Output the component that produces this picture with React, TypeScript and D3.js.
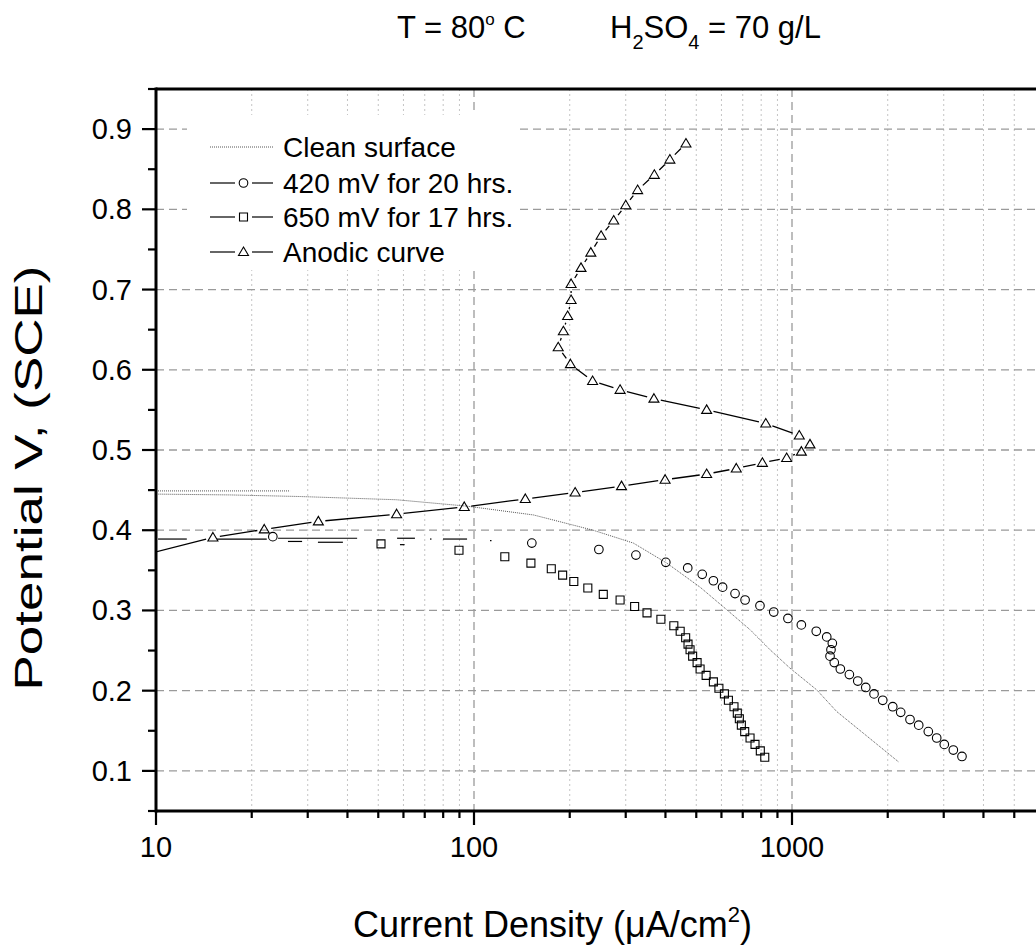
import React from "react";
import * as d3 from "d3";

// ---------- data ----------
const cleanCurrent = [2159, 1676, 1382, 1196, 986, 853, 738, 623, 514, 404, 317, 237, 154, 95, 57, 28.4, 17.1, 10.15];
const cleanPotential = [0.1115, 0.147, 0.174, 0.201, 0.228, 0.251, 0.276, 0.301, 0.329, 0.359, 0.384, 0.4, 0.419, 0.43, 0.438, 0.442, 0.444, 0.445];
const cleanUpperCurrent = [10, 26.4];
const cleanUpperPotential = [0.449, 0.449];

const c420Current = [23.3, 152, 247, 323, 401, 470, 522, 566, 605, 662, 712, 793, 876, 971, 1070, 1192, 1286, 1339, 1326, 1317, 1358, 1419, 1515, 1610, 1706, 1811, 1929, 2074, 2197, 2350, 2503, 2683, 2851, 3012, 3216, 3424];
const c420Potential = [0.392, 0.384, 0.376, 0.369, 0.36, 0.353, 0.345, 0.337, 0.329, 0.321, 0.313, 0.306, 0.298, 0.29, 0.282, 0.274, 0.267, 0.259, 0.251, 0.243, 0.235, 0.227, 0.22, 0.212, 0.204, 0.196, 0.188, 0.18, 0.173, 0.164, 0.157, 0.149, 0.141, 0.133, 0.126, 0.118];

const s650Current = [51, 89.7, 125, 151, 175, 190, 206, 228, 255, 288, 320, 350, 387, 425, 445, 463, 471, 478, 487, 503, 514, 537, 566, 589, 613, 631, 657, 673, 683, 693, 710, 738, 765, 795, 821];
const s650Potential = [0.383, 0.375, 0.367, 0.359, 0.352, 0.344, 0.336, 0.328, 0.32, 0.313, 0.305, 0.297, 0.289, 0.281, 0.274, 0.266, 0.258, 0.251, 0.243, 0.235, 0.227, 0.219, 0.211, 0.203, 0.196, 0.188, 0.18, 0.172, 0.165, 0.157, 0.149, 0.141, 0.133, 0.125, 0.117];

const anodicCurrent = [8.9, 15.1, 21.9, 32.4, 57.1, 93.2, 145, 208, 291, 399, 539, 668, 807, 962, 1070, 1139, 1054, 827, 539, 368, 288, 236, 201, 184, 191, 197, 202, 202, 217, 233, 251, 275, 300, 327, 369, 413, 464];
const anodicPotential = [0.368, 0.391, 0.401, 0.411, 0.42, 0.429, 0.439, 0.447, 0.455, 0.463, 0.47, 0.477, 0.484, 0.49, 0.498, 0.507, 0.518, 0.533, 0.55, 0.564, 0.575, 0.586, 0.607, 0.628, 0.648, 0.667, 0.687, 0.707, 0.727, 0.746, 0.767, 0.786, 0.805, 0.824, 0.843, 0.862, 0.882];

// short visible line pieces of the low-current part of the two aged curves
const seg420Start = [10.15, 15.55, 24.2, 57.3, 72.7, 79.9, 112.3];
const seg420End = [12.5, 22.3, 42.9, 65.2, 73.5, 95.1, 113.5];
const seg420Potential = [0.389, 0.389, 0.39, 0.39, 0.389, 0.389, 0.387];
const seg650Start = [26.0, 32.3, 58.5];
const seg650End = [28.8, 38.7, 60.5];
const seg650Potential = [0.386, 0.385, 0.382];

const legendLabels = ["Clean surface", "420 mV for 20 hrs.", "650 mV for 17 hrs.", "Anodic curve"];
const xDomain = [10, 10000];
const yDomain = [0.05, 0.95];

// ---------- layout ----------
const W = 1036, H = 947;
const X0 = 156, X1 = 1110, Y0 = 811, Y1 = 89;
const FONT = "Liberation Sans, Arial, Helvetica, sans-serif";

const x = d3.scaleLog().domain(xDomain).range([X0, X1]);
const y = d3.scaleLinear().domain(yDomain).range([Y0, Y1]);

type P = [number, number];
const pts = (xs: number[], ys: number[]): P[] => xs.map((v, i) => [x(v), y(ys[i])]);

function gappedSegments(p: P[], gap: number) {
  const out: string[] = [];
  for (let i = 0; i < p.length - 1; i++) {
    const [ax, ay] = p[i], [bx, by] = p[i + 1];
    const dx = bx - ax, dy = by - ay, d = Math.hypot(dx, dy);
    if (d <= 2 * gap) continue;
    const ux = dx / d, uy = dy / d;
    out.push(`M${ax + ux * gap},${ay + uy * gap}L${bx - ux * gap},${by - uy * gap}`);
  }
  return out.join("");
}

const triPath = (cx: number, cy: number) => `M${cx},${cy - 5}L${cx + 5},${cy + 3.5}L${cx - 5},${cy + 3.5}Z`;
const sqPath = (cx: number, cy: number) => `M${cx - 4},${cy - 4}h8v8h-8Z`;

export default function App() {
  const allTicks = x.ticks();
  const isMajorX = (v: number) => Math.abs(Math.log10(v) - Math.round(Math.log10(v))) < 1e-9;
  const yTicks = y.ticks(18);
  const isMajorY = (v: number) => Math.abs(v * 10 - Math.round(v * 10)) < 1e-6 && v > 0.06 && v < 0.94;
  const fmtY = d3.format(".1f");

  const cleanLine = d3.line()(pts(cleanCurrent, cleanPotential)) || "";
  const cleanUpper = d3.line()(pts(cleanUpperCurrent, cleanUpperPotential)) || "";
  const anodicPts = pts(anodicCurrent, anodicPotential);
  const c420Pts = pts(c420Current, c420Potential);
  const s650Pts = pts(s650Current, s650Potential);

  const legendY = [147, 183, 217, 252];

  return (
    <svg width={W} height={H} style={{ position: "absolute", left: 0, top: 0, background: "#fff" }} fontFamily={FONT}>
      <defs>
        <clipPath id="plot">
          <rect x={X0} y={Y1} width={X1 - X0} height={Y0 - Y1} />
        </clipPath>
      </defs>
      <rect x={0} y={0} width={W} height={H} fill="#fff" />

      {/* grid */}
      <g>
        {allTicks.filter((v) => !isMajorX(v)).map((v) => (
          <line key={"mg" + v} x1={x(v)} x2={x(v)} y1={Y1} y2={Y0} stroke="#c4c4c4" strokeWidth={1} strokeDasharray="2,3" />
        ))}
        {allTicks.filter((v) => isMajorX(v) && v > xDomain[0] && v < xDomain[1]).map((v) => (
          <line key={"Mg" + v} x1={x(v)} x2={x(v)} y1={Y1} y2={Y0} stroke="#9a9a9a" strokeWidth={1.3} strokeDasharray="8,5" />
        ))}
        {yTicks.filter(isMajorY).map((v) => (
          <line key={"yg" + v} x1={X0} x2={X1} y1={y(v)} y2={y(v)} stroke="#9a9a9a" strokeWidth={1.3} strokeDasharray="8,5" />
        ))}
      </g>

      {/* data */}
      <g clipPath="url(#plot)">
        <path d={cleanUpper} fill="none" stroke="#555" strokeWidth={1} strokeDasharray="1,1" />
        <path d={cleanLine} fill="none" stroke="#555" strokeWidth={1} strokeDasharray="1,1" />
        {seg420Start.map((s, i) => (
          <line key={"s4" + i} x1={x(s)} x2={x(seg420End[i])} y1={y(seg420Potential[i])} y2={y(seg420Potential[i])} stroke="#000" strokeWidth={1.2} />
        ))}
        {seg650Start.map((s, i) => (
          <line key={"s6" + i} x1={x(s)} x2={x(seg650End[i])} y1={y(seg650Potential[i])} y2={y(seg650Potential[i])} stroke="#000" strokeWidth={1.2} />
        ))}
        <path d={gappedSegments(anodicPts, 7)} fill="none" stroke="#000" strokeWidth={1.3} />
        {anodicPts.map(([px, py], i) => (
          <path key={"a" + i} d={triPath(px, py)} fill="none" stroke="#000" strokeWidth={1.1} />
        ))}
        {c420Pts.map(([px, py], i) => (
          <circle key={"c" + i} cx={px} cy={py} r={4.3} fill="none" stroke="#000" strokeWidth={1.1} />
        ))}
        {s650Pts.map(([px, py], i) => (
          <path key={"q" + i} d={sqPath(px, py)} fill="none" stroke="#000" strokeWidth={1.1} />
        ))}
      </g>

      {/* legend */}
      <g>
        <rect x={187} y={115} width={331} height={155} fill="#fff" />
        <line x1={210} x2={273} y1={legendY[0]} y2={legendY[0]} stroke="#555" strokeWidth={1} strokeDasharray="1,1" />
        {[1, 2, 3].map((k) => (
          <g key={"lg" + k}>
            <line x1={210} x2={235} y1={legendY[k]} y2={legendY[k]} stroke="#000" strokeWidth={1.2} />
            <line x1={252} x2={273} y1={legendY[k]} y2={legendY[k]} stroke="#000" strokeWidth={1.2} />
            {k === 1 && <circle cx={243.5} cy={legendY[k]} r={4.3} fill="none" stroke="#000" strokeWidth={1.1} />}
            {k === 2 && <path d={sqPath(243.5, legendY[k])} fill="none" stroke="#000" strokeWidth={1.1} />}
            {k === 3 && <path d={triPath(243.5, legendY[k])} fill="none" stroke="#000" strokeWidth={1.1} />}
          </g>
        ))}
        {legendLabels.map((t, k) => (
          <text key={"lt" + k} x={283} y={legendY[k] + 10} fontSize={28} fill="#000">{t}</text>
        ))}
      </g>

      {/* axes */}
      <g stroke="#000">
        <line x1={X0} x2={X0} y1={Y1 - 1.5} y2={Y0 + 1.5} strokeWidth={3} />
        <line x1={X0} x2={W + 10} y1={Y0} y2={Y0} strokeWidth={3} />
        <line x1={X0} x2={W + 10} y1={Y1} y2={Y1} strokeWidth={3} />
        {allTicks.map((v) => (
          <line key={"xt" + v} x1={x(v)} x2={x(v)} y1={Y0} y2={Y0 + (isMajorX(v) ? 14 : 7)} strokeWidth={2.2} />
        ))}
        {yTicks.map((v) => (
          <line key={"yt" + v} x1={X0} x2={X0 - (isMajorY(v) ? 14 : 8)} y1={y(v)} y2={y(v)} strokeWidth={2.2} />
        ))}
      </g>
      <g fontSize={29} fill="#000">
        {allTicks.filter((v) => isMajorX(v) && x(v) < W).map((v) => (
          <text key={"xl" + v} x={x(v)} y={Y0 + 46} textAnchor="middle">{String(v)}</text>
        ))}
        {yTicks.filter(isMajorY).map((v) => (
          <text key={"yl" + v} x={132} y={y(v) + 10} textAnchor="end">{fmtY(v)}</text>
        ))}
      </g>

      {/* titles */}
      <text x={397} y={38} fontSize={31} fill="#000">
        T = 80<tspan fontSize={17} dy={-13}>o</tspan><tspan dy={13}> C</tspan>
      </text>
      <text x={610} y={38} fontSize={31} fill="#000">
        H<tspan fontSize={20} dy={11}>2</tspan><tspan dy={-11}>SO</tspan><tspan fontSize={20} dy={11}>4</tspan><tspan dy={-11}> = 70 g/L</tspan>
      </text>
      <text x={353} y={937} fontSize={36} fill="#000">
        Current Density (μA/cm<tspan fontSize={22} dy={-15}>2</tspan><tspan dy={15}>)</tspan>
      </text>
      <text transform="translate(42,478) rotate(-90)" textAnchor="middle" fontSize={39} fill="#000" textLength={425} lengthAdjust="spacingAndGlyphs">
        Potential V, (SCE)
      </text>
    </svg>
  );
}
